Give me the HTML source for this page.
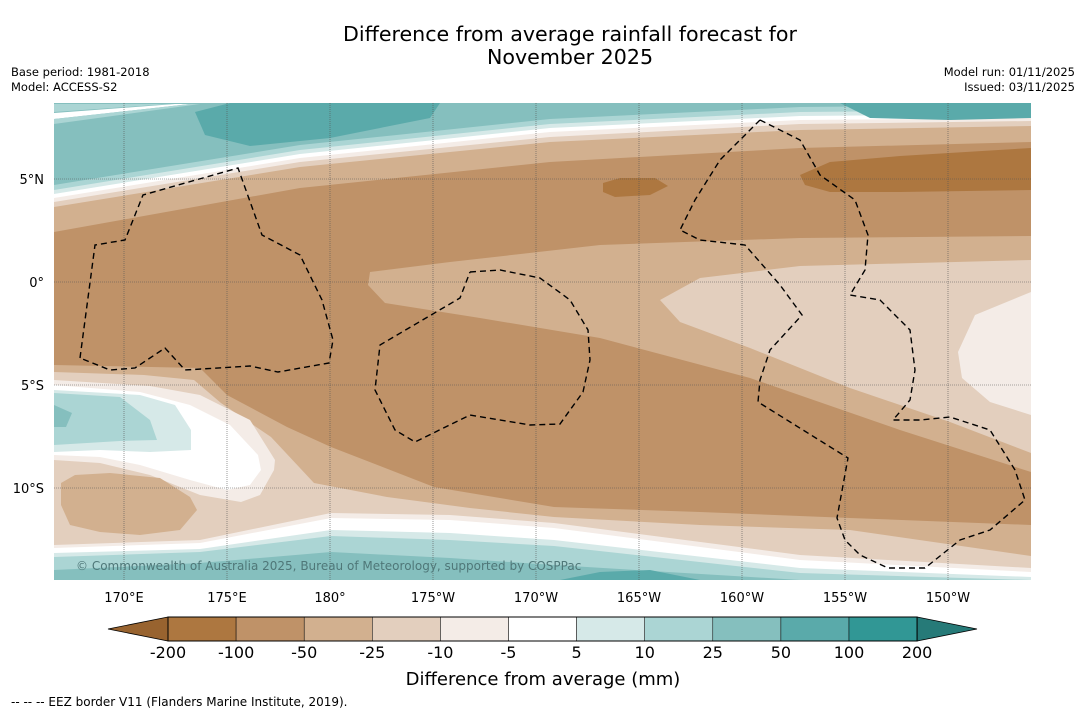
<!DOCTYPE html>
<html><head><meta charset="utf-8">
<style>
body{margin:0;background:#fff;font-family:"DejaVu Sans","Liberation Sans",sans-serif;}
#wrap{position:relative;width:1085px;height:713px;overflow:hidden;background:#fff}
</style></head>
<body>
<div id="wrap">
<svg id="svg" width="1085" height="713" xmlns="http://www.w3.org/2000/svg" font-family="DejaVu Sans, Liberation Sans, sans-serif">
<text x="570" y="41" text-anchor="middle" font-size="20.6">Difference from average rainfall forecast for</text>
<text x="570" y="64" text-anchor="middle" font-size="20.6">November 2025</text>
<text x="11" y="76" font-size="11.5">Base period: 1981-2018</text>
<text x="11" y="91" font-size="11.5">Model: ACCESS-S2</text>
<text x="1075" y="76" font-size="11.5" text-anchor="end">Model run: 01/11/2025</text>
<text x="1075" y="91" font-size="11.5" text-anchor="end">Issued: 03/11/2025</text>
<defs><clipPath id="mc"><rect x="54" y="103" width="977" height="477"/></clipPath></defs>
<g id="map" clip-path="url(#mc)"></g>
<g id="axes"></g>
<g id="cbar"></g>
<text x="543" y="685" text-anchor="middle" font-size="18">Difference from average (mm)</text>
<text x="11" y="706" font-size="12">--  --  -- EEZ border V11 (Flanders Marine Institute, 2019).</text>
</svg>
</div>
<script>
const levels = ["-200","-100","-50","-25","-10","-5","5","10","25","50","100","200"];
const colors = ["#ad7740","#bf9268","#d2b08f","#e3cfbe","#f4ece7","#ffffff","#d6e9e8","#abd5d4","#85bfbe","#5aaaaa","#319795"];
const extendLow = "#98632f", extendHigh = "#267a78";
const lonTicks = [170,175,180,-175,-170,-165,-160,-155,-150];
const lonLabels = ["170°E","175°E","180°","175°W","170°W","165°W","160°W","155°W","150°W"];
const latTicks = [5,0,-5,-10];
const latLabels = ["5°N","0°","5°S","10°S"];
const NS="http://www.w3.org/2000/svg";
function xLon(l){const e=l<0?l+360:l;return 124+(e-170)*20.6;}
function yLat(l){return 282-l*20.6;}
const map=document.getElementById('map'),axes=document.getElementById('axes'),cb=document.getElementById('cbar');
function mk(tag,at,parent){const e=document.createElementNS(NS,tag);for(const k in at)e.setAttribute(k,at[k]);parent.appendChild(e);return e;}
const C=i=>colors[i];
function poly(ci,pts,name){const p=mk('polygon',{points:pts,fill:C(ci)},map);

}
function rev(s){return s.split(' ').reverse().join(' ');}
poly(1,"54,103 1031,103 1031,580 54,580","base-minus100");
const north=[[2,"54,232 300,188 550,162 800,148 1031,142"],[3,"54,207 300,167 550,142 800,130 1031,126"],[4,"54,202 300,162 550,137 800,124 1031,121"],[5,"54,198 300,158 550,132 800,120 1031,118"],[6,"54,194 300,154 550,128 800,116 1031,114"],[7,"54,190 300,150 550,124 800,112 1031,110"],[8,"54,185 300,145 550,119 800,107 1031,105"]];
north.forEach((n,i)=>poly(n[0],"54,95 1031,95 "+rev(n[1]),"north-band-"+i));
poly(9,"195,112 230,103 440,103 430,118 330,138 250,146 205,135","north-blob-50-100");
poly(9,"840,103 1031,103 1031,118 950,120 870,118","north-blob-ne");
poly(7,"54,104 170,104 54,112","nw-strip");
poly(5,"54,113 175,104 190,104 54,119","nw-white");
poly(7,"54,119 190,104 200,104 54,124","nw-strip2");
poly(2,"370,272 450,262 600,245 800,238 1031,236 1031,472 900,430 750,378 600,338 480,318 385,303 368,285","east-minus50");
poly(3,"660,300 700,278 800,266 1031,260 1031,453 950,422 850,388 750,348 680,322","east-minus25");
poly(4,"958,352 975,315 1031,292 1031,415 990,402 962,378","east-minus10");
poly(0,"603,183 620,178 655,178 668,186 650,195 615,197 603,192","patch-minus200-a");
poly(0,"800,175 830,162 900,156 1031,148 1031,190 900,192 830,192 805,185","patch-minus200-b");
// south-west
poly(2,"54,365 200,368 227,395 287,427 331,447 434,487 554,507 700,512 850,518 1031,525 1031,590 54,590","south-minus50");
poly(3,"54,372 144,375 194,380 221,403 271,437 314,483 387,497 470,508 554,517 700,525 850,530 1031,556 1031,590 54,590","south-minus25");
poly(4,"54,380 150,386 200,395 250,420 275,460 274,470 260,495 241,502 200,495 150,475 100,463 54,460","west-minus10");
poly(5,"54,385 140,392 190,405 230,425 258,455 261,470 250,485 227,490 190,480 140,465 100,457 54,455","west-white");
poly(6,"54,390 140,395 175,405 191,430 191,450 150,452 100,450 54,452","west-5-10");
poly(7,"54,393 120,397 150,420 157,440 120,441 54,445","west-10-25");
poly(8,"54,405 72,413 66,427 54,427","west-25-50");
poly(2,"61,483 75,475 110,473 160,478 190,497 197,510 180,530 140,535 100,532 70,525 61,505","west-ellipse-minus50");
const south=[[4,"54,545 200,540 331,513 450,515 554,523 800,555 1031,568"],[5,"54,548 200,543 331,518 450,520 554,528 800,560 1031,572"],[6,"54,553 200,549 331,530 450,533 554,540 800,568 1031,577"],[7,"54,557 200,552 331,536 450,540 554,546 800,573 1031,580"],[8,"54,570 200,563 331,552 450,558 554,565 800,580 1031,585"]];
south.forEach((s,i)=>poly(s[0],"54,590 1031,590 "+rev(s[1]),"south-band-"+i));
poly(9,"560,580 600,572 650,570 700,580","south-blob");
lonTicks.forEach((l,i)=>{const x=xLon(l);
const g=mk('line',{x1:x,x2:x,y1:103,y2:580,stroke:'#555','stroke-width':0.6,'stroke-dasharray':'1,1'},map);

const t=mk('text',{x:x,y:602,'text-anchor':'middle','font-size':13},axes);t.textContent=lonLabels[i];
});
latTicks.forEach((l,i)=>{const y=yLat(l);
const g=mk('line',{x1:54,x2:1031,y1:y,y2:y,stroke:'#555','stroke-width':0.6,'stroke-dasharray':'1,1'},map);

const t=mk('text',{x:44,y:y+5,'text-anchor':'end','font-size':13},axes);t.textContent=latLabels[i];
});
const eez=["80,358 95,245 125,240 143,195 238,168 262,235 300,255 322,300 333,340 329,363 278,372 250,366 185,370 165,348 135,368 110,370 80,358",
"470,272 500,270 540,278 570,300 588,330 590,360 583,392 560,424 530,425 470,415 415,442 395,430 375,390 380,345 460,298 470,272",
"760,120 800,140 820,175 855,200 868,235 865,270 850,295 880,300 910,330 915,370 910,400 893,420 920,420 950,417 990,430 1015,470 1025,500 990,530 960,540 925,568 888,568 860,555 845,540 837,518 848,458 758,402 760,380 770,350 802,315 780,285 745,245 700,240 680,230 695,200 720,160 760,120"];
eez.forEach(p=>{const e=mk('polyline',{points:p,fill:'none',stroke:'#000','stroke-width':1.4,'stroke-dasharray':'6,4'},map);
});
const cp=mk('text',{x:76,y:570,'font-size':12,fill:'#4f7778'},map);cp.textContent="© Commonwealth of Australia 2025, Bureau of Meteorology, supported by COSPPac";

const x0=168,w=68.1,y0=617,h=24;
colors.forEach((c,i)=>{const r=mk('rect',{x:x0+i*w,y:y0,width:w,height:h,fill:c,stroke:'#000','stroke-width':0.5},cb);
});
const end=x0+colors.length*w;
const tl=mk('polygon',{points:`${x0},${y0} 108,${y0+h/2} ${x0},${y0+h}`,fill:extendLow,stroke:'#000','stroke-width':0.8},cb);

const tr=mk('polygon',{points:`${end},${y0} 977,${y0+h/2} ${end},${y0+h}`,fill:extendHigh,stroke:'#000','stroke-width':0.8},cb);

mk('rect',{x:x0,y:y0,width:end-x0,height:h,fill:'none',stroke:'#000','stroke-width':1},cb);
levels.forEach((l,i)=>{const t=mk('text',{x:x0+i*w,y:658,'text-anchor':'middle','font-size':16},cb);t.textContent=l;
});
</script>
</body></html>
